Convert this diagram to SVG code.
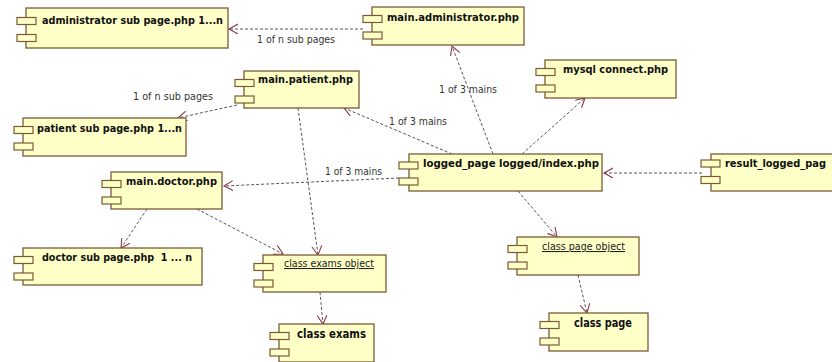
<svg xmlns="http://www.w3.org/2000/svg" width="832" height="362" viewBox="0 0 832 362">
<defs>
<style>
.box{fill:#FFFFC8;stroke:#7a5a36;stroke-width:1.3}
.port{fill:#FFFFC8;stroke:#7a5a36;stroke-width:1.2}
.t{font-family:"DejaVu Sans","Liberation Sans",sans-serif;font-size:11px;font-weight:bold;fill:#111}
.u{font-family:"DejaVu Sans","Liberation Sans",sans-serif;font-size:10.5px;fill:#222;text-decoration:underline}
.lbl{font-family:"DejaVu Sans","Liberation Sans",sans-serif;font-size:10px;fill:#333}
.c{fill:none;stroke:#5f5258;stroke-width:1;stroke-dasharray:3 2;marker-end:url(#arr)}
</style>
<marker id="arr" markerUnits="userSpaceOnUse" markerWidth="12" markerHeight="12" refX="9" refY="5" orient="auto">
<path d="M0,0 L9,5 L0,10" fill="none" stroke="#8a3a44" stroke-width="1.1"/>
</marker>
</defs>
<rect width="832" height="362" fill="#ffffff"/>
<g id="connectors">
<line class="c" x1="363" y1="29" x2="229" y2="29"/>
<line class="c" x1="237" y1="105" x2="178" y2="118"/>
<line class="c" x1="452" y1="154" x2="344" y2="108"/>
<line class="c" x1="493" y1="154" x2="452" y2="46"/>
<line class="c" x1="522" y1="154" x2="585" y2="98"/>
<line class="c" x1="399" y1="178" x2="224" y2="186"/>
<line class="c" x1="298" y1="108" x2="318" y2="255"/>
<line class="c" x1="197" y1="209" x2="283" y2="254"/>
<line class="c" x1="147" y1="209" x2="121" y2="248"/>
<line class="c" x1="518" y1="191" x2="557" y2="237"/>
<line class="c" x1="578" y1="275" x2="587" y2="313"/>
<line class="c" x1="320" y1="292" x2="323" y2="324"/>
<line class="c" x1="702" y1="173" x2="604" y2="173"/>
<text class="lbl" x="257" y="43" textLength="78" lengthAdjust="spacingAndGlyphs">1 of n sub pages</text>
<text class="lbl" x="133" y="100" textLength="80" lengthAdjust="spacingAndGlyphs">1 of n sub pages</text>
<text class="lbl" x="389" y="125" textLength="58" lengthAdjust="spacingAndGlyphs">1 of 3 mains</text>
<text class="lbl" x="439" y="93" textLength="58" lengthAdjust="spacingAndGlyphs">1 of 3 mains</text>
<text class="lbl" x="325" y="175" textLength="57" lengthAdjust="spacingAndGlyphs">1 of 3 mains</text>
</g>
<g id="adminSub">
<rect class="box" x="26" y="8" width="202" height="40"/>
<rect class="port" x="17" y="17.5" width="19" height="7"/>
<rect class="port" x="17" y="34.5" width="19" height="7"/>
<text class="t" x="42" y="24" textLength="181" lengthAdjust="spacingAndGlyphs">administrator sub page.php 1...n</text>
</g>
<g id="mainAdmin">
<rect class="box" x="372" y="7" width="152" height="38"/>
<rect class="port" x="363" y="15.5" width="19" height="7"/>
<rect class="port" x="363" y="32" width="19" height="7"/>
<text class="t" x="387" y="21" textLength="132" lengthAdjust="spacingAndGlyphs">main.administrator.php</text>
</g>
<g id="mainPatient">
<rect class="box" x="244" y="71" width="115" height="37"/>
<rect class="port" x="235" y="79.5" width="19" height="7"/>
<rect class="port" x="235" y="96" width="19" height="7"/>
<text class="t" x="258" y="83" textLength="95" lengthAdjust="spacingAndGlyphs">main.patient.php</text>
</g>
<g id="mysql">
<rect class="box" x="545" y="60" width="131" height="38"/>
<rect class="port" x="536" y="68.5" width="19" height="7"/>
<rect class="port" x="536" y="85" width="19" height="7"/>
<text class="t" x="563" y="73" textLength="105" lengthAdjust="spacingAndGlyphs">mysql connect.php</text>
</g>
<g id="patientSub">
<rect class="box" x="23" y="118" width="163" height="38"/>
<rect class="port" x="14" y="126.5" width="19" height="7"/>
<rect class="port" x="14" y="143" width="19" height="7"/>
<text class="t" x="37" y="132" textLength="145" lengthAdjust="spacingAndGlyphs">patient sub page.php 1...n</text>
</g>
<g id="mainDoctor">
<rect class="box" x="111" y="172" width="111" height="37"/>
<rect class="port" x="102" y="180.5" width="19" height="7"/>
<rect class="port" x="102" y="197" width="19" height="7"/>
<text class="t" x="126" y="185" textLength="91" lengthAdjust="spacingAndGlyphs">main.doctor.php</text>
</g>
<g id="loggedPage">
<rect class="box" x="409" y="154" width="193" height="37"/>
<rect class="port" x="399" y="162" width="19" height="7"/>
<rect class="port" x="399" y="178" width="19" height="7"/>
<text class="t" x="423" y="167" textLength="176" lengthAdjust="spacingAndGlyphs">logged_page logged/index.php</text>
</g>
<g id="resultLogged">
<rect class="box" x="711" y="154" width="140" height="37"/>
<rect class="port" x="701" y="160" width="19" height="7"/>
<rect class="port" x="701" y="176.5" width="19" height="7"/>
<text class="t" x="725" y="167" textLength="101" lengthAdjust="spacingAndGlyphs">result_logged_pag</text>
</g>
<g id="doctorSub">
<rect class="box" x="23" y="248" width="179" height="37"/>
<rect class="port" x="14" y="256.5" width="19" height="7"/>
<rect class="port" x="14" y="273" width="19" height="7"/>
<text class="t" x="42" y="261" textLength="150" lengthAdjust="spacingAndGlyphs" xml:space="preserve">doctor sub page.php  1 ... n</text>
</g>
<g id="examsObj">
<rect class="box" x="263" y="255" width="123" height="37"/>
<rect class="port" x="254" y="263.5" width="19" height="7"/>
<rect class="port" x="254" y="280" width="19" height="7"/>
<text class="u" x="284" y="267" textLength="90" lengthAdjust="spacingAndGlyphs">class exams object</text>
</g>
<g id="examsCls">
<rect class="box" x="279" y="324" width="95" height="38"/>
<rect class="port" x="270" y="332.5" width="19" height="7"/>
<rect class="port" x="270" y="349" width="19" height="7"/>
<text class="t" x="297" y="338" textLength="69" lengthAdjust="spacingAndGlyphs" style="font-size:12px">class exams</text>
</g>
<g id="pageObj">
<rect class="box" x="517" y="237" width="122" height="38"/>
<rect class="port" x="508" y="245.5" width="19" height="7"/>
<rect class="port" x="508" y="262" width="19" height="7"/>
<text class="u" x="542" y="250" textLength="83" lengthAdjust="spacingAndGlyphs">class page object</text>
</g>
<g id="pageCls">
<rect class="box" x="549" y="313" width="99" height="38"/>
<rect class="port" x="540" y="321.5" width="19" height="7"/>
<rect class="port" x="540" y="338" width="19" height="7"/>
<text class="t" x="574" y="327" textLength="58" lengthAdjust="spacingAndGlyphs" style="font-size:12px">class page</text>
</g>
</svg>
